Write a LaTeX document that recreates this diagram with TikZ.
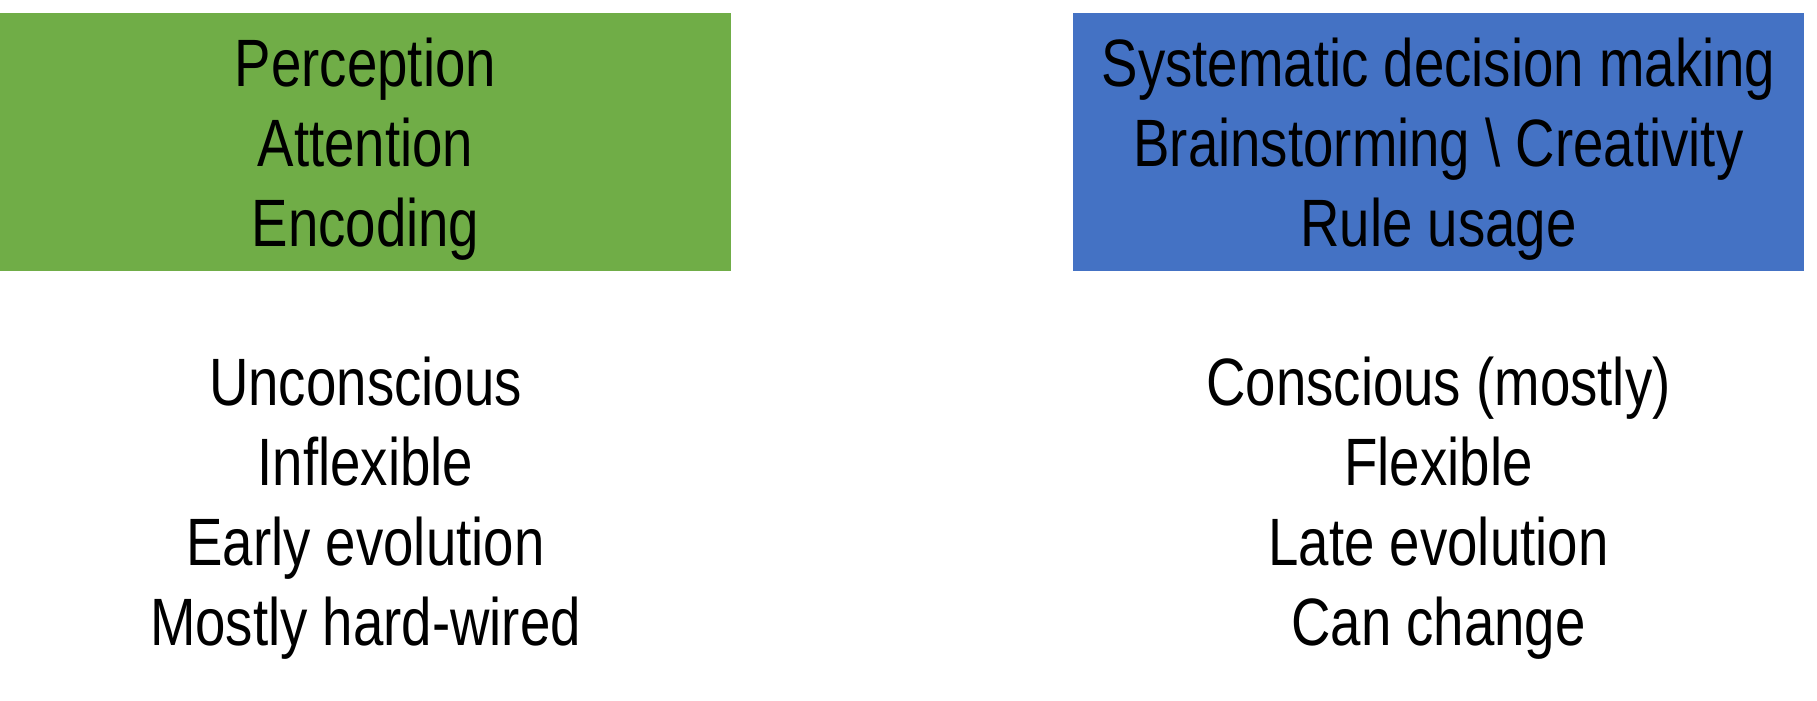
\documentclass[tikz,border=0pt]{standalone}
\usepackage{fontspec}
\setmainfont{Liberation Sans}[FakeStretch=0.815]
\definecolor{boxgreen}{HTML}{70AD47}
\definecolor{boxblue}{HTML}{4472C4}
\tikzset{
  panel/.style={inner sep=0pt, outer sep=0pt, anchor=north west, minimum width=731pt, minimum height=258pt},
  txt/.style={anchor=base, inner sep=0pt, font=\fontsize{67}{80}\selectfont, text=black}
}
\begin{document}
\begin{tikzpicture}[x=1pt,y=1pt]
\useasboundingbox (0,0) rectangle (1817,-701);
\node[panel, fill=boxgreen] (gbox) at (0,-13) {};
\node[panel, fill=boxblue] (bbox) at (1073,-13) {};
% top left
\node[txt] (l1) at (365.5,-86) {Perception};
\node[txt] (l2) at (365.5,-166) {Attention};
\node[txt] (l3) at (365.5,-246) {Encoding};
% top right
\node[txt] (r1) at (1438.5,-86) {Systematic decision making};
\node[txt] (r2) at (1438.5,-166) {Brainstorming \textbackslash{} Creativity};
\node[txt] (r3) at (1438.5,-246) {Rule usage};
% bottom left
\node[txt] (bl1) at (365.5,-405) {Unconscious};
\node[txt] (bl2) at (365.5,-485) {Inflexible};
\node[txt] (bl3) at (365.5,-565) {Early evolution};
\node[txt] (bl4) at (365.5,-645) {Mostly hard-wired};
% bottom right
\node[txt] (br1) at (1438.5,-405) {Conscious (mostly)};
\node[txt] (br2) at (1438.5,-485) {Flexible};
\node[txt] (br3) at (1438.5,-565) {Late evolution};
\node[txt] (br4) at (1438.5,-645) {Can change};
\end{tikzpicture}
\end{document}
